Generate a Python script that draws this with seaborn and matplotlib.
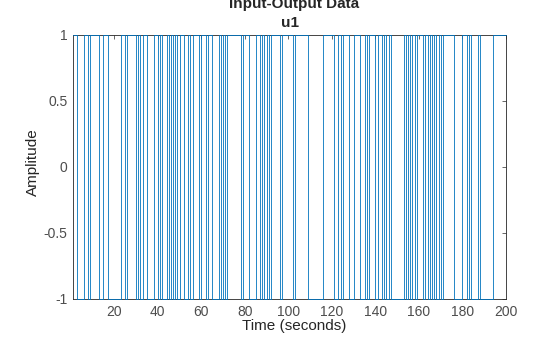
import matplotlib
matplotlib.use("Agg")
import matplotlib.pyplot as plt
import seaborn as sns
import pandas as pd

# switching instants (seconds) and the level held from each instant on
switch_times = [1, 3, 6, 8, 9, 13, 15, 17, 23, 25, 26, 30, 31, 32, 33, 35, 38, 40, 41, 42,
                44, 45, 46, 47, 48, 49, 50, 52, 54, 55, 56, 59, 60, 62, 63, 65, 68, 69, 70, 71,
                72, 78, 79, 82, 85, 87, 88, 89, 90, 91, 92, 96, 97, 102, 103, 109, 116, 121, 123, 124,
                125, 128, 130, 133, 135, 136, 137, 140, 141, 143, 144, 145, 146, 147, 153, 154, 155, 156, 157, 158,
                159, 162, 163, 164, 165, 166, 167, 168, 169, 170, 171, 176, 180, 182, 183, 184, 187, 188, 194, 200]
levels = [1, -1, 1, -1, 1, -1, 1, -1, 1, -1, 1, -1, 1, -1, 1, -1, 1, -1, 1, -1,
          1, -1, 1, -1, 1, -1, 1, -1, 1, -1, 1, -1, 1, -1, 1, -1, 1, -1, 1, -1,
          1, -1, 1, -1, 1, -1, 1, -1, 1, -1, 1, -1, 1, -1, 1, -1, 1, -1, 1, -1,
          1, -1, 1, -1, 1, -1, 1, -1, 1, -1, 1, -1, 1, -1, 1, -1, 1, -1, 1, -1,
          1, -1, 1, -1, 1, -1, 1, -1, 1, -1, 1, -1, 1, -1, 1, -1, 1, -1, 1, 1]

x_ticks = [20, 40, 60, 80, 100, 120, 140, 160, 180, 200]
y_ticks = [-1, -0.5, 0, 0.5, 1]
y_ticklabels = ["-1", "-0.5", "0", "0.5", "1"]

df = pd.DataFrame({"t": switch_times, "u": levels})

sns.set_style("white")
plt.rcParams["font.family"] = ["Liberation Sans", "DejaVu Sans"]

fig = plt.figure(figsize=(5.6, 3.37), dpi=100)
ax = fig.add_axes([73 / 560, 1 - 299 / 337, (506 - 73) / 560, (299 - 35) / 337])

sns.lineplot(data=df, x="t", y="u", ax=ax, drawstyle="steps-post",
             color="#0072BD", linewidth=0.6, estimator=None, sort=False,
             zorder=3, clip_on=False)

axc = "#262626"
ax.set_xlim(1, 200)
ax.set_ylim(-1, 1)
ax.set_xticks(x_ticks)
ax.set_xticklabels([str(v) for v in x_ticks])
ax.set_yticks(y_ticks)
ax.set_yticklabels(y_ticklabels)
ax.tick_params(direction="in", length=3, width=0.6, colors="#4d4d4d",
               labelsize=10, top=True, right=True, pad=4)
for s in ax.spines.values():
    s.set_color(axc)
    s.set_linewidth(0.6)
    s.set_visible(True)
    s.set_zorder(2)
ax.set_xlabel("")
ax.set_ylabel("")

fig.text(33 / 560, 1 - 162 / 337, "Amplitude", rotation=90, ha="center", va="center",
         fontsize=11, color=axc)
fig.text(294 / 560, 1 - 326 / 337, "Time (seconds)", ha="center", va="center",
         fontsize=11, color=axc)
fig.text(294 / 560, 1 - 4 / 337, "Input-Output Data", ha="center", va="center",
         fontsize=11, fontweight="bold", color=axc)
fig.text(290 / 560, 1 - 23 / 337, "u1", ha="center", va="center",
         fontsize=11, fontweight="bold", color=axc)

fig.savefig("out.png", dpi=100)
